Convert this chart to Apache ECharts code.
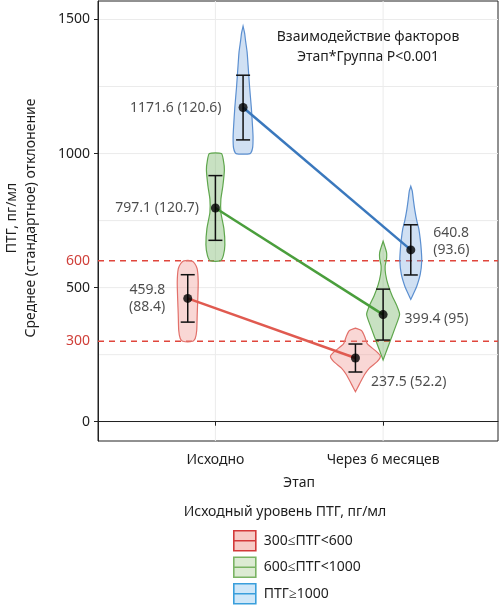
<!DOCTYPE html>
<html>
<head>
<meta charset="utf-8">
<script src="https://cdn.jsdelivr.net/npm/echarts@6/dist/echarts.min.js"></script>
<style>
  html, body { margin: 0; padding: 0; background: #fff; }
  #chart { width: 500px; height: 605px; }
</style>
</head>
<body>
<div id="chart"></div>
<script>
// данные
var stages = ['Исходно', 'Через 6 месяцев'];
var groups = ['300≤ПТГ<600', '600≤ПТГ<1000', 'ПТГ≥1000'];
var means = [[459.8, 237.5], [797.1, 399.4], [1171.6, 640.8]];
var sds = [[88.4, 52.2], [120.7, 95], [120.6, 93.6]];
var gridValues = [0, 250, 500, 750, 1000, 1250, 1500];
var refValues = [300, 600];
var yLabels = [0, 300, 500, 600, 1000, 1500];

// профили скрипичных диаграмм: [значение, полуширина]
var violinRed0 = [[300, 5], [310, 7.5], [340, 9], [400, 9.5], [450, 10], [520, 10.5], [570, 9.5], [590, 7], [600, 4]];
var violinRed1 = [[112, 0], [140, 4], [175, 9], [200, 14], [225, 22], [245, 25], [265, 20], [290, 12], [320, 9], [340, 6], [349, 0]];
var violinGreen0 = [[600, 5], [620, 8], [660, 9.5], [720, 8.5], [780, 5.5], [830, 5.5], [880, 7.5], [940, 9], [975, 8], [1000, 6]];
var violinGreen1 = [[230, 0], [270, 4], [310, 8], [350, 12], [400, 16.5], [430, 14], [470, 9], [510, 5], [550, 2.5], [580, 2], [610, 3.5], [630, 3.5], [650, 2], [673, 0]];
var violinBlue0 = [[1000, 7], [1020, 9.5], [1060, 10], [1100, 9.5], [1170, 8.3], [1250, 6.5], [1330, 5], [1380, 4], [1420, 2.5], [1450, 1.5], [1475, 0]];
var violinBlue1 = [[456, 0], [480, 3], [505, 6], [550, 9.5], [600, 11], [640, 10.5], [680, 9.5], [720, 8], [750, 6], [790, 4], [830, 2.5], [860, 1.5], [878, 0]];
var profiles = [[violinRed0, violinRed1], [violinGreen0, violinGreen1], [violinBlue0, violinBlue1]];

var lineColors = ['#e05a50', '#4a9e3c', '#3a78bd'];
var violinFill = ['rgba(240,150,145,0.38)', 'rgba(110,175,95,0.38)', 'rgba(120,165,220,0.35)'];
var violinStroke = ['#e2706a', '#5ea64c', '#5b8fd0'];
var keyFill = ['#f7cbc6', '#dcebd3', '#cfe7f8'];
var keyStroke = ['#d33a3a', '#7ab464', '#3a9fdc'];
var dodge = [-0.165, 0, 0.165];
var violinScale = 1 / 168;
var font = 'Noto Sans';
var txt = '#1e1e1e';

// позиции подписей относительно точки
var labelPos = [
  [{position: 'left', distance: 18, offset: [0, 0]}, {position: 'right', distance: 11, offset: [0, 24]}],
  [{position: 'left', distance: 12, offset: [0, 0]}, {position: 'right', distance: 17, offset: [0, 4]}],
  [{position: 'left', distance: 17, offset: [0, 0]}, {position: 'right', distance: 18, offset: [0, -8]}]
];
var twoLine = [[true, false], [false, false], [false, true]];

var myChart = echarts.init(document.getElementById('chart'));

function makeViolin(g) {
  return {
    type: 'custom',
    name: groups[g],
    z: 2,
    silent: true,
    itemStyle: {color: keyFill[g], borderColor: keyStroke[g]},
    data: stages.map(function (s, i) { return [i]; }),
    renderItem: function (params, api) {
      var i = api.value(0);
      var prof = profiles[g][i];
      var cx = i + 1 + dodge[g];
      var left = [], right = [];
      prof.forEach(function (p) {
        left.push(api.coord([cx - p[1] * violinScale, p[0]]));
        right.push(api.coord([cx + p[1] * violinScale, p[0]]));
      });
      return {
        type: 'polygon',
        shape: {points: left.concat(right.reverse()), smooth: 0.2},
        style: {fill: violinFill[g], stroke: violinStroke[g], lineWidth: 1.2}
      };
    }
  };
}

var series = [];

// сетка
series.push({
  type: 'custom', z: 0, silent: true,
  data: gridValues.map(function (v) { return [v]; }),
  renderItem: function (params, api) {
    var a = api.coord([0.3, api.value(0)]);
    var b = api.coord([2.685, api.value(0)]);
    return {type: 'line', shape: {x1: a[0], y1: a[1], x2: b[0], y2: b[1]}, style: {stroke: '#ebebeb', lineWidth: 1}};
  }
});
series.push({
  type: 'custom', z: 0, silent: true,
  data: stages.map(function (s, i) { return [i + 1]; }),
  renderItem: function (params, api) {
    var a = api.coord([api.value(0), -72]);
    var b = api.coord([api.value(0), 1569]);
    return {type: 'line', shape: {x1: a[0], y1: a[1], x2: b[0], y2: b[1]}, style: {stroke: '#ebebeb', lineWidth: 1}};
  }
});
// пороговые линии
series.push({
  type: 'custom', z: 1, silent: true,
  data: refValues.map(function (v) { return [v]; }),
  renderItem: function (params, api) {
    var a = api.coord([0.3, api.value(0)]);
    var b = api.coord([2.685, api.value(0)]);
    return {type: 'line', shape: {x1: a[0], y1: a[1], x2: b[0], y2: b[1]}, style: {stroke: '#e0463c', lineWidth: 1.4, lineDash: [6, 5]}};
  }
});

for (var g = 0; g < 3; g++) series.push(makeViolin(g));

// линии средних
for (var g2 = 0; g2 < 3; g2++) {
  series.push({
    type: 'line', z: 3, silent: true, showSymbol: false,
    lineStyle: {color: lineColors[g2], width: 2.5},
    data: stages.map(function (s, i) { return [i + 1 + dodge[g2], means[g2][i]]; })
  });
}

// планки погрешностей
var errData = [];
for (var a = 0; a < 3; a++) {
  for (var i = 0; i < 2; i++) {
    errData.push([i + 1 + dodge[a], means[a][i] - sds[a][i], means[a][i] + sds[a][i]]);
  }
}
series.push({
  type: 'custom', z: 4, silent: true,
  data: errData,
  renderItem: function (params, api) {
    var lo = api.coord([api.value(0), api.value(1)]);
    var hi = api.coord([api.value(0), api.value(2)]);
    var w = 7;
    var st = {stroke: '#111', lineWidth: 1.5};
    return {type: 'group', children: [
      {type: 'line', shape: {x1: lo[0], y1: lo[1], x2: hi[0], y2: hi[1]}, style: st},
      {type: 'line', shape: {x1: lo[0] - w, y1: lo[1], x2: lo[0] + w, y2: lo[1]}, style: st},
      {type: 'line', shape: {x1: hi[0] - w, y1: hi[1], x2: hi[0] + w, y2: hi[1]}, style: st}
    ]};
  }
});

// точки средних с подписями
var ptData = [];
for (var p = 0; p < 3; p++) {
  for (var j = 0; j < 2; j++) {
    var lp = labelPos[p][j];
    var t = twoLine[p][j] ? means[p][j] + '\n(' + sds[p][j] + ')' : means[p][j] + ' (' + sds[p][j] + ')';
    ptData.push({
      value: [j + 1 + dodge[p], means[p][j]],
      label: {show: true, formatter: t, position: lp.position, distance: lp.distance, offset: lp.offset,
        align: lp.position === 'left' ? 'right' : 'left'}
    });
  }
}
series.push({
  type: 'scatter', z: 5, silent: true,
  symbol: 'circle', symbolSize: 9,
  itemStyle: {color: '#000'},
  label: {color: txt, fontFamily: font, fontSize: 14, lineHeight: 17},
  data: ptData
});

// легенда: по одной строке на группу
var legends = groups.map(function (n, k) {
  return {
    orient: 'vertical', left: 233, top: 530 + k * 26.5, padding: 0,
    itemWidth: 22, itemHeight: 20,
    selectedMode: false,
    icon: 'path://M0,0L22,0L22,20L0,20Z M0,10L22,10',
    textStyle: {color: txt, fontFamily: font, fontSize: 14, padding: [0, 0, 0, 3]},
    data: [{name: n, itemStyle: {color: keyFill[k], borderColor: keyStroke[k], borderWidth: 1.6}}]
  };
});

option = {
  animation: false,
  backgroundColor: '#fff',
  grid: {left: 98, right: 2, top: 1, bottom: 164, show: true, borderColor: '#222', borderWidth: 1, backgroundColor: 'transparent'},
  xAxis: {
    type: 'value', min: 0.3, max: 2.685,
    axisLine: {show: true, lineStyle: {color: '#222', width: 1}},
    axisTick: {show: true, length: 4, customValues: [1, 2], lineStyle: {color: '#222'}},
    axisLabel: {customValues: [1, 2], margin: 12, color: txt, fontFamily: font, fontSize: 14,
      formatter: function (v) { return stages[Math.round(v) - 1]; }},
    splitLine: {show: false}
  },
  yAxis: {
    type: 'value', min: -72, max: 1569,
    axisLine: {show: true, lineStyle: {color: '#222', width: 1}},
    axisTick: {show: true, length: 4, customValues: [0, 500, 1000, 1500], lineStyle: {color: '#222'}},
    axisLabel: {customValues: yLabels, margin: 8, color: txt, fontFamily: font, fontSize: 14,
      formatter: function (v) { return refValues.indexOf(v) >= 0 ? '{r|' + v + '}' : String(v); },
      rich: {r: {color: '#d0403a', fontFamily: font, fontSize: 14}}},
    splitLine: {show: false}
  },
  legend: legends,
  graphic: [
    {type: 'text', x: 368, y: 37, style: {text: 'Взаимодействие факторов', fill: txt, font: '14px "Noto Sans"', textAlign: 'center', textVerticalAlign: 'middle'}},
    {type: 'text', x: 368, y: 57, style: {text: 'Этап*Группа P<0.001', fill: txt, font: '14px "Noto Sans"', textAlign: 'center', textVerticalAlign: 'middle'}},
    {type: 'text', x: 299, y: 483, style: {text: 'Этап', fill: txt, font: '14px "Noto Sans"', textAlign: 'center', textVerticalAlign: 'middle'}},
    {type: 'text', x: 285, y: 512, style: {text: 'Исходный уровень ПТГ, пг/мл', fill: txt, font: '14px "Noto Sans"', textAlign: 'center', textVerticalAlign: 'middle'}},
    {type: 'text', x: 12, y: 218, rotation: Math.PI / 2, style: {text: 'ПТГ, пг/мл', fill: txt, font: '14px "Noto Sans"', textAlign: 'center', textVerticalAlign: 'middle'}},
    {type: 'text', x: 31, y: 218, rotation: Math.PI / 2, style: {text: 'Среднее (стандартное) отклонение', fill: txt, font: '14px "Noto Sans"', textAlign: 'center', textVerticalAlign: 'middle'}}
  ],
  series: series
};
myChart.setOption(option);
</script>
</body>
</html>
